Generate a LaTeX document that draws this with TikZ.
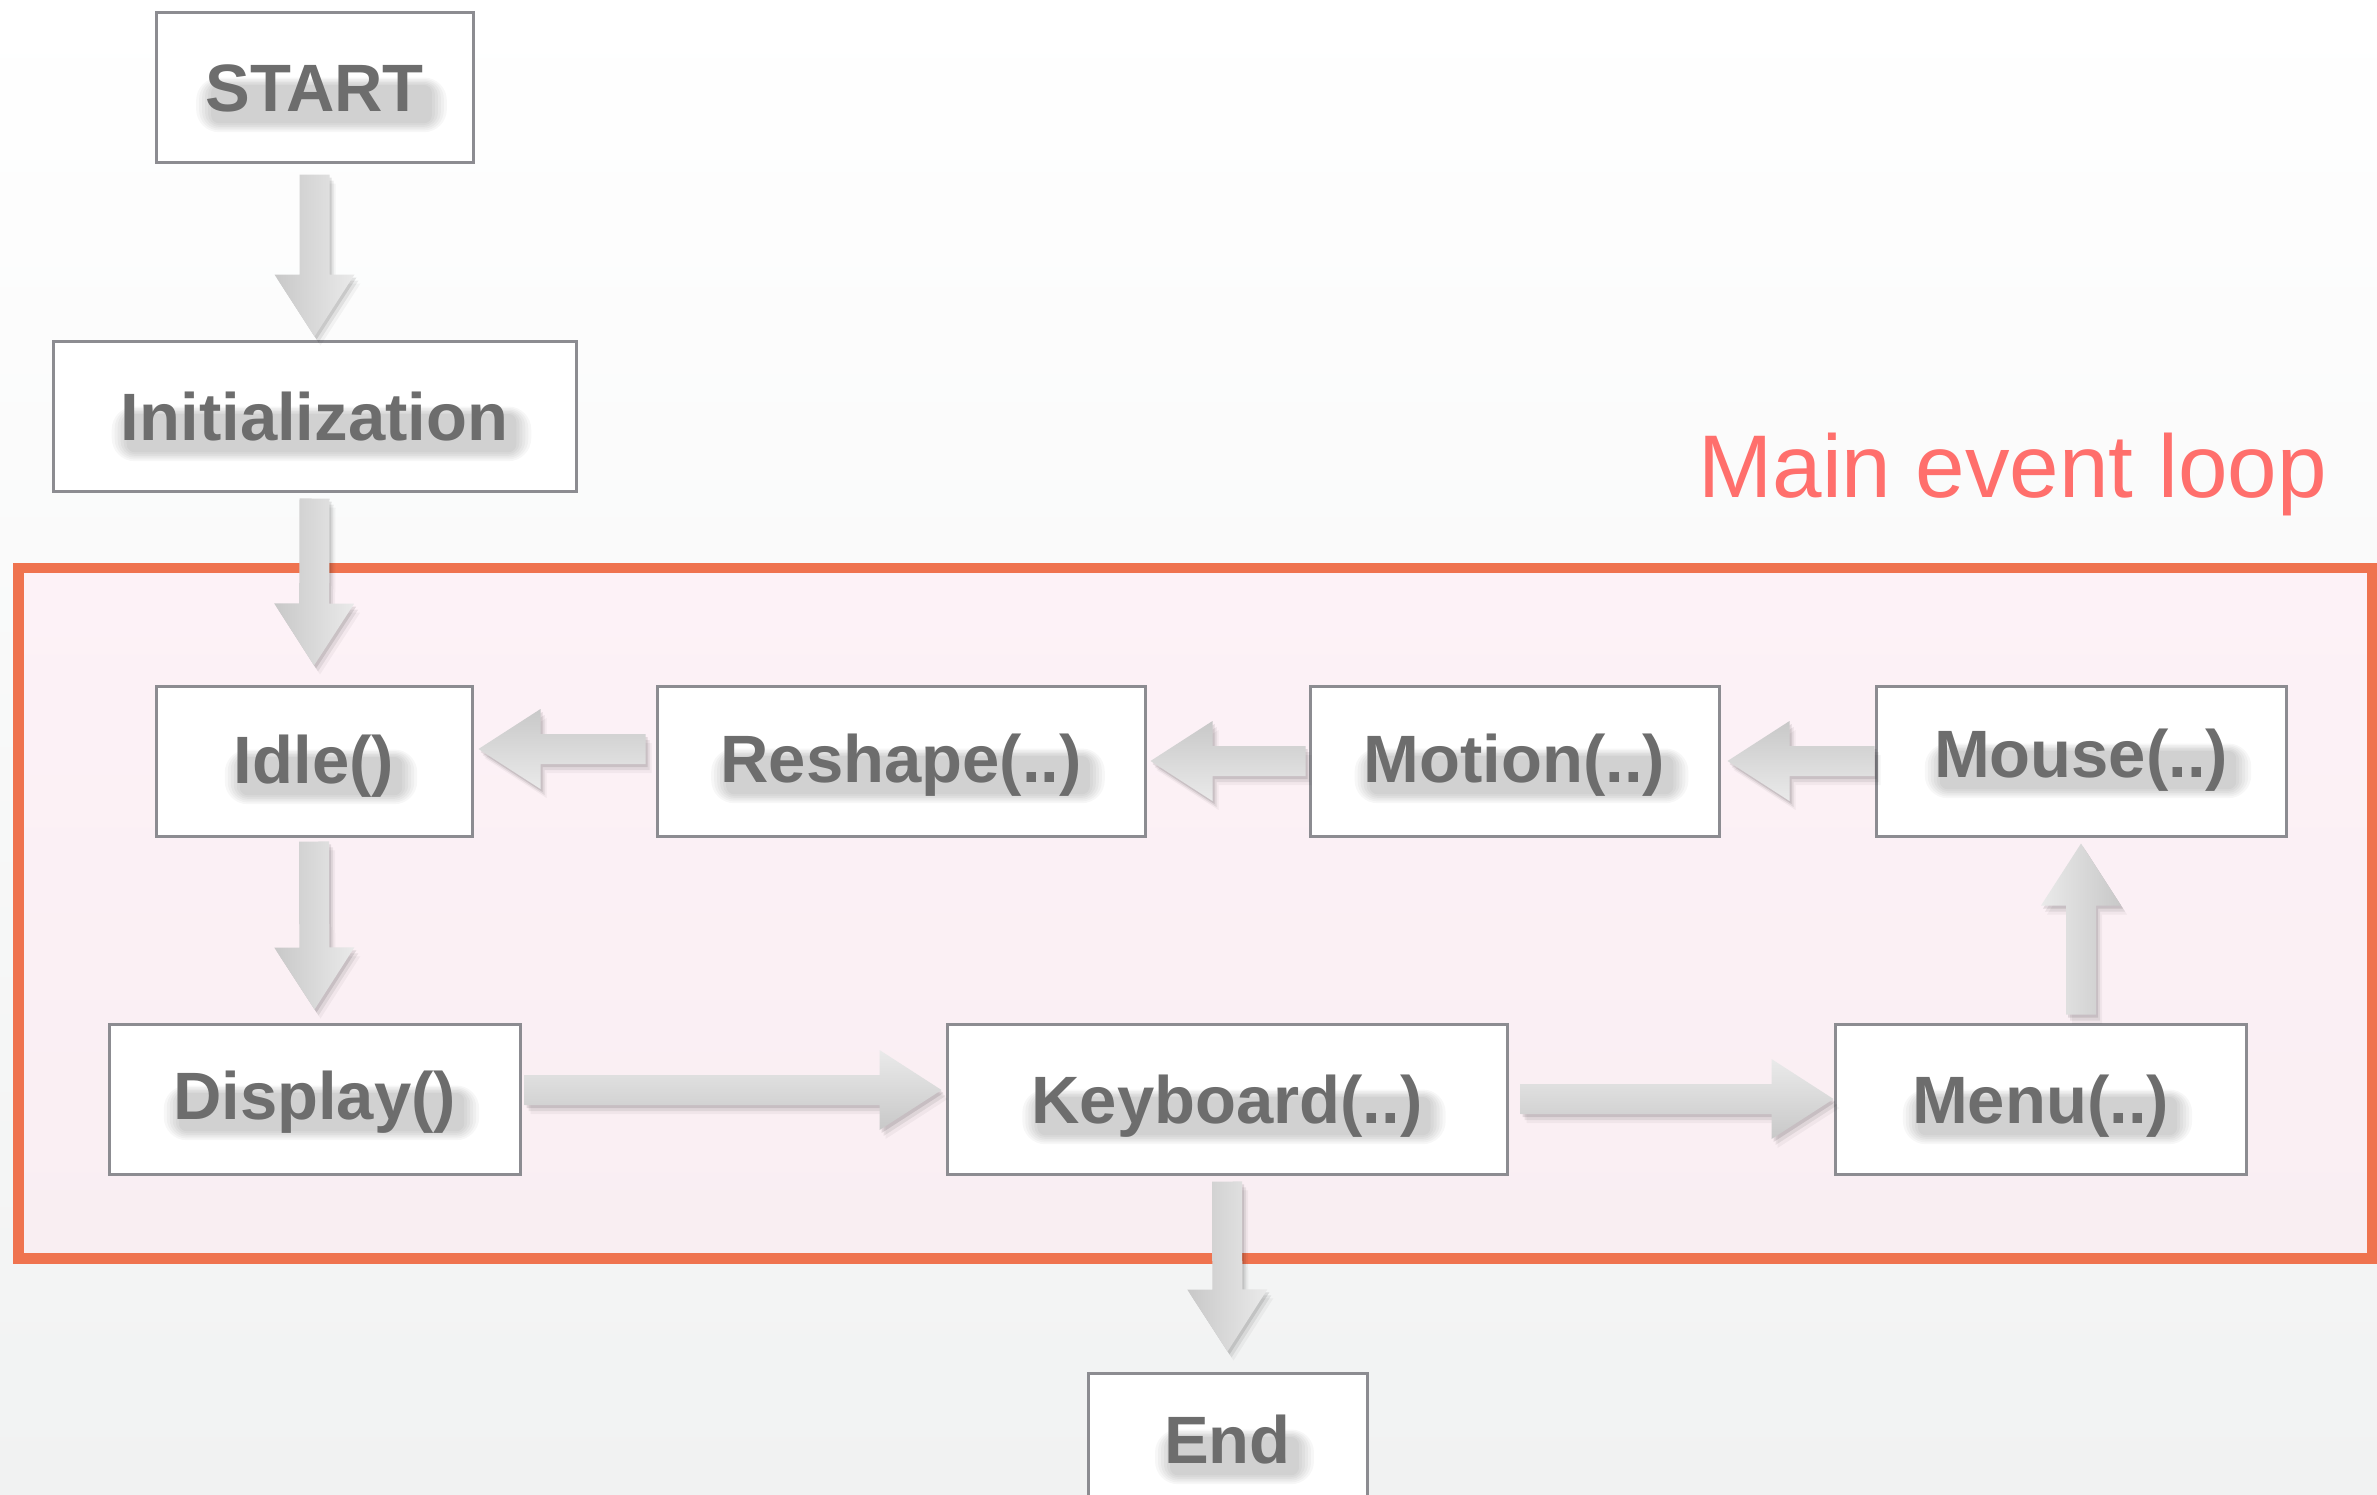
\documentclass[tikz,border=0pt]{standalone}
\usepackage{fontspec}
\setmainfont{Liberation Sans}
\usetikzlibrary{calc}
\definecolor{boxline}{HTML}{8C8C91}
\definecolor{txtgray}{HTML}{6D6D6D}
\definecolor{loopline}{HTML}{EF734F}
\definecolor{looptop}{HTML}{FDF2F7}
\definecolor{loopbot}{HTML}{F9EEF2}
\definecolor{looptitle}{HTML}{FF6F6C}
\definecolor{bgbot}{HTML}{F1F2F2}
\definecolor{arrlight}{HTML}{EAEAEA}
\definecolor{arrdark}{HTML}{C8C8C8}

\pgfdeclarelayer{boxes}
\pgfdeclarelayer{shadows}
\pgfsetlayers{boxes,shadows,main}

\tikzset{
  stepbox/.style={draw=boxline, line width=3pt, fill=white, inner sep=0pt, minimum height=150pt},
  lbl/.style={text=txtgray, inner sep=0pt, text height=48pt, text depth=0pt,
              font=\fontsize{67}{80}\selectfont\bfseries},
  downshade/.style={left color=arrdark, right color=arrlight},
  upshade/.style={left color=arrlight, right color=arrdark},
  rightshade/.style={top color=arrlight, bottom color=arrdark},
  leftshade/.style={top color=arrdark, bottom color=arrlight},
}

% fat arrow from #1 to #2 with shading style #3
\newcommand\fatarrow[3]{%
  \coordinate (fa-s) at (#1);
  \coordinate (fa-e) at (#2);
  \coordinate (fa-h) at ($(fa-e)!62pt!(fa-s)$);
  \coordinate (fa-1) at ($(fa-s)!15pt!90:(fa-e)$);
  \coordinate (fa-2) at ($(fa-h)!15pt!90:(fa-e)$);
  \coordinate (fa-3) at ($(fa-h)!40pt!90:(fa-e)$);
  \coordinate (fa-5) at ($(fa-h)!40pt!-90:(fa-e)$);
  \coordinate (fa-6) at ($(fa-h)!15pt!-90:(fa-e)$);
  \coordinate (fa-7) at ($(fa-s)!15pt!-90:(fa-e)$);
  \foreach \sx/\sy/\op in {2/-3/0.10, 4/-6/0.07, 6/-9/0.04}{
    \fill[black, opacity=\op]
      ([shift={(\sx pt,\sy pt)}]fa-1) -- ([shift={(\sx pt,\sy pt)}]fa-2) --
      ([shift={(\sx pt,\sy pt)}]fa-3) -- ([shift={(\sx pt,\sy pt)}]fa-e) --
      ([shift={(\sx pt,\sy pt)}]fa-5) -- ([shift={(\sx pt,\sy pt)}]fa-6) --
      ([shift={(\sx pt,\sy pt)}]fa-7) -- cycle;
  }
  \shade[#3] (fa-1) -- (fa-2) -- (fa-3) -- (fa-e) -- (fa-5) -- (fa-6) -- (fa-7) -- cycle;
}

% label with soft shadow band: #1 name, #2 node, #3 vertical shift (pt, up), #4 text
\newcommand\boxtext[4]{%
  \node[lbl] (#1-t) at ([yshift=#3pt]#2) {#4};
  \begin{pgfonlayer}{shadows}
  \foreach \g in {0,3,6,9,12,15}{
    \fill[black, opacity=0.03, rounded corners=\g pt+8pt]
      ([shift={(6pt-\g pt, 2pt+\g pt*0.5)}]#1-t.west) rectangle
      ([shift={(8pt+\g pt, -12pt-\g pt*0.6)}]#1-t.south east);
  }
  \end{pgfonlayer}
}

\begin{document}
\begin{tikzpicture}[x=1pt, y=-1pt]
\useasboundingbox (0,0) rectangle (2377,1494);
\begin{pgfonlayer}{boxes}
\shade[top color=white, bottom color=bgbot] (0,0) rectangle (2377,1494);

% main event loop frame
\node[draw=loopline, line width=10.5pt, top color=looptop, bottom color=loopbot,
      minimum width=2353.5pt, minimum height=690.5pt, inner sep=0pt] (loop) at (1195.25,913.25) {};

% boxes
\node[stepbox, minimum width=317pt] (start) at (314.5,87) {};
\node[stepbox, minimum width=523pt] (init) at (314.5,416) {};
\node[stepbox, minimum width=316pt] (idle) at (314,761) {};
\node[stepbox, minimum width=488pt] (reshape) at (901,761) {};
\node[stepbox, minimum width=409pt] (motion) at (1514.5,761) {};
\node[stepbox, minimum width=410pt] (mouse) at (2081,761) {};
\node[stepbox, minimum width=411pt] (display) at (314.5,1099) {};
\node[stepbox, minimum width=560pt] (keyboard) at (1227,1099) {};
\node[stepbox, minimum width=411pt] (menu) at (2040.5,1099) {};
\node[stepbox, minimum width=279pt] (end) at (1227.5,1448) {};
\end{pgfonlayer}

\node[font=\fontsize{89}{100}\selectfont, text=looptitle, anchor=base east, inner sep=0pt]
  (title) at (2327,497) {Main event loop};

% labels
\boxtext{start}{start}{0}{START}
\boxtext{init}{init}{0}{Initialization}
\boxtext{idle}{idle}{2}{Idle()}
\boxtext{reshape}{reshape}{3}{Reshape(..)}
\boxtext{motion}{motion}{3}{Motion(..)}
\boxtext{mouse}{mouse}{8}{Mouse(..)}
\boxtext{display}{display}{4}{Display()}
\boxtext{keyboard}{keyboard}{0}{Keyboard(..)}
\boxtext{menu}{menu}{0}{Menu(..)}
\boxtext{end}{end}{9}{End}

% connectors
\fatarrow{[yshift=-11pt]start.south}{[yshift=3pt]init.north}{downshade}
\fatarrow{[yshift=-6pt]init.south}{[yshift=19pt]idle.north}{downshade}
\fatarrow{[yshift=-4pt]idle.south}{[yshift=13pt]display.north}{downshade}
\fatarrow{[shift={(3pt,9pt)}]display.east}{[shift={(-4pt,9pt)}]keyboard.west}{rightshade}
\fatarrow{[xshift=12pt]keyboard.east}{menu.west}{rightshade}
\coordinate (mm) at (mouse.south |- menu.north);
\fatarrow{[yshift=8pt]mm}{[yshift=-6pt]mouse.south}{upshade}
\fatarrow{mouse.west}{[xshift=7pt]motion.east}{leftshade}
\fatarrow{[xshift=-3pt]motion.west}{[xshift=4pt]reshape.east}{leftshade}
\fatarrow{[shift={(-10pt,12pt)}]reshape.west}{[shift={(5pt,12pt)}]idle.east}{leftshade}
\fatarrow{[yshift=-6pt]keyboard.south}{[yshift=20pt]end.north}{downshade}
\end{tikzpicture}
\end{document}
